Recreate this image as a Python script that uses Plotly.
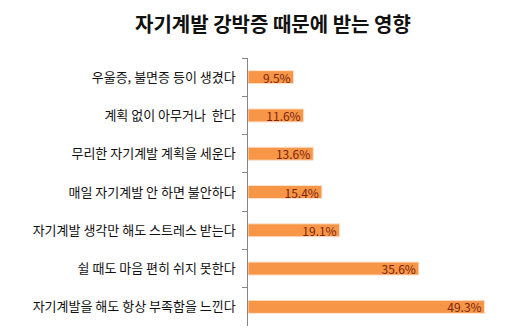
import plotly.graph_objects as go

# Survey responses: effects of self-development compulsion (%)
categories = [
    "우울증, 불면증 등이 생겼다",
    "계획 없이 아무거나  한다",
    "무리한 자기계발 계획을 세운다",
    "매일 자기계발 안 하면 불안하다",
    "자기계발 생각만 해도 스트레스 받는다",
    "쉴 때도 마음 편히 쉬지 못한다",
    "자기계발을 해도 항상 부족함을 느낀다",
]
values = [9.5, 11.6, 13.6, 15.4, 19.1, 35.6, 49.3]
value_labels = [f"{v:.1f}%" for v in values]

FONT = "Noto Sans CJK KR"

fig = go.Figure()
fig.add_trace(go.Bar(
    y=categories,
    x=values,
    orientation="h",
    text=value_labels,
    textposition="inside",
    insidetextanchor="end",
    constraintext="none",
    textfont=dict(family=FONT, size=12, color="#7a2410"),
    marker=dict(color="#f79646", line=dict(color="#fbe3cf", width=1)),
    width=0.34,
))

fig.update_layout(
    width=513,
    height=332,
    margin=dict(l=248, r=25, t=58, b=6),
    paper_bgcolor="white",
    plot_bgcolor="white",
    showlegend=False,
    title=dict(
        text="<b>자기계발 강박증 때문에 받는 영향</b>",
        x=0.532, xanchor="center",
        y=0.925, yanchor="middle",
        font=dict(family=FONT, size=20, color="#111111"),
    ),
    xaxis=dict(
        range=[0, 50],
        showticklabels=False,
        showgrid=False,
        zeroline=False,
        showline=False,
        fixedrange=True,
    ),
    yaxis=dict(
        autorange="reversed",
        showline=True,
        linecolor="#868686",
        linewidth=1,
        ticks="outside",
        tickson="boundaries",
        ticklen=5,
        tickcolor="#868686",
        tickwidth=1,
        showgrid=False,
        zeroline=False,
        ticksuffix="   ",
        tickfont=dict(family=FONT, size=13, color="#111111"),
    ),
)

fig.write_html("out.html")
